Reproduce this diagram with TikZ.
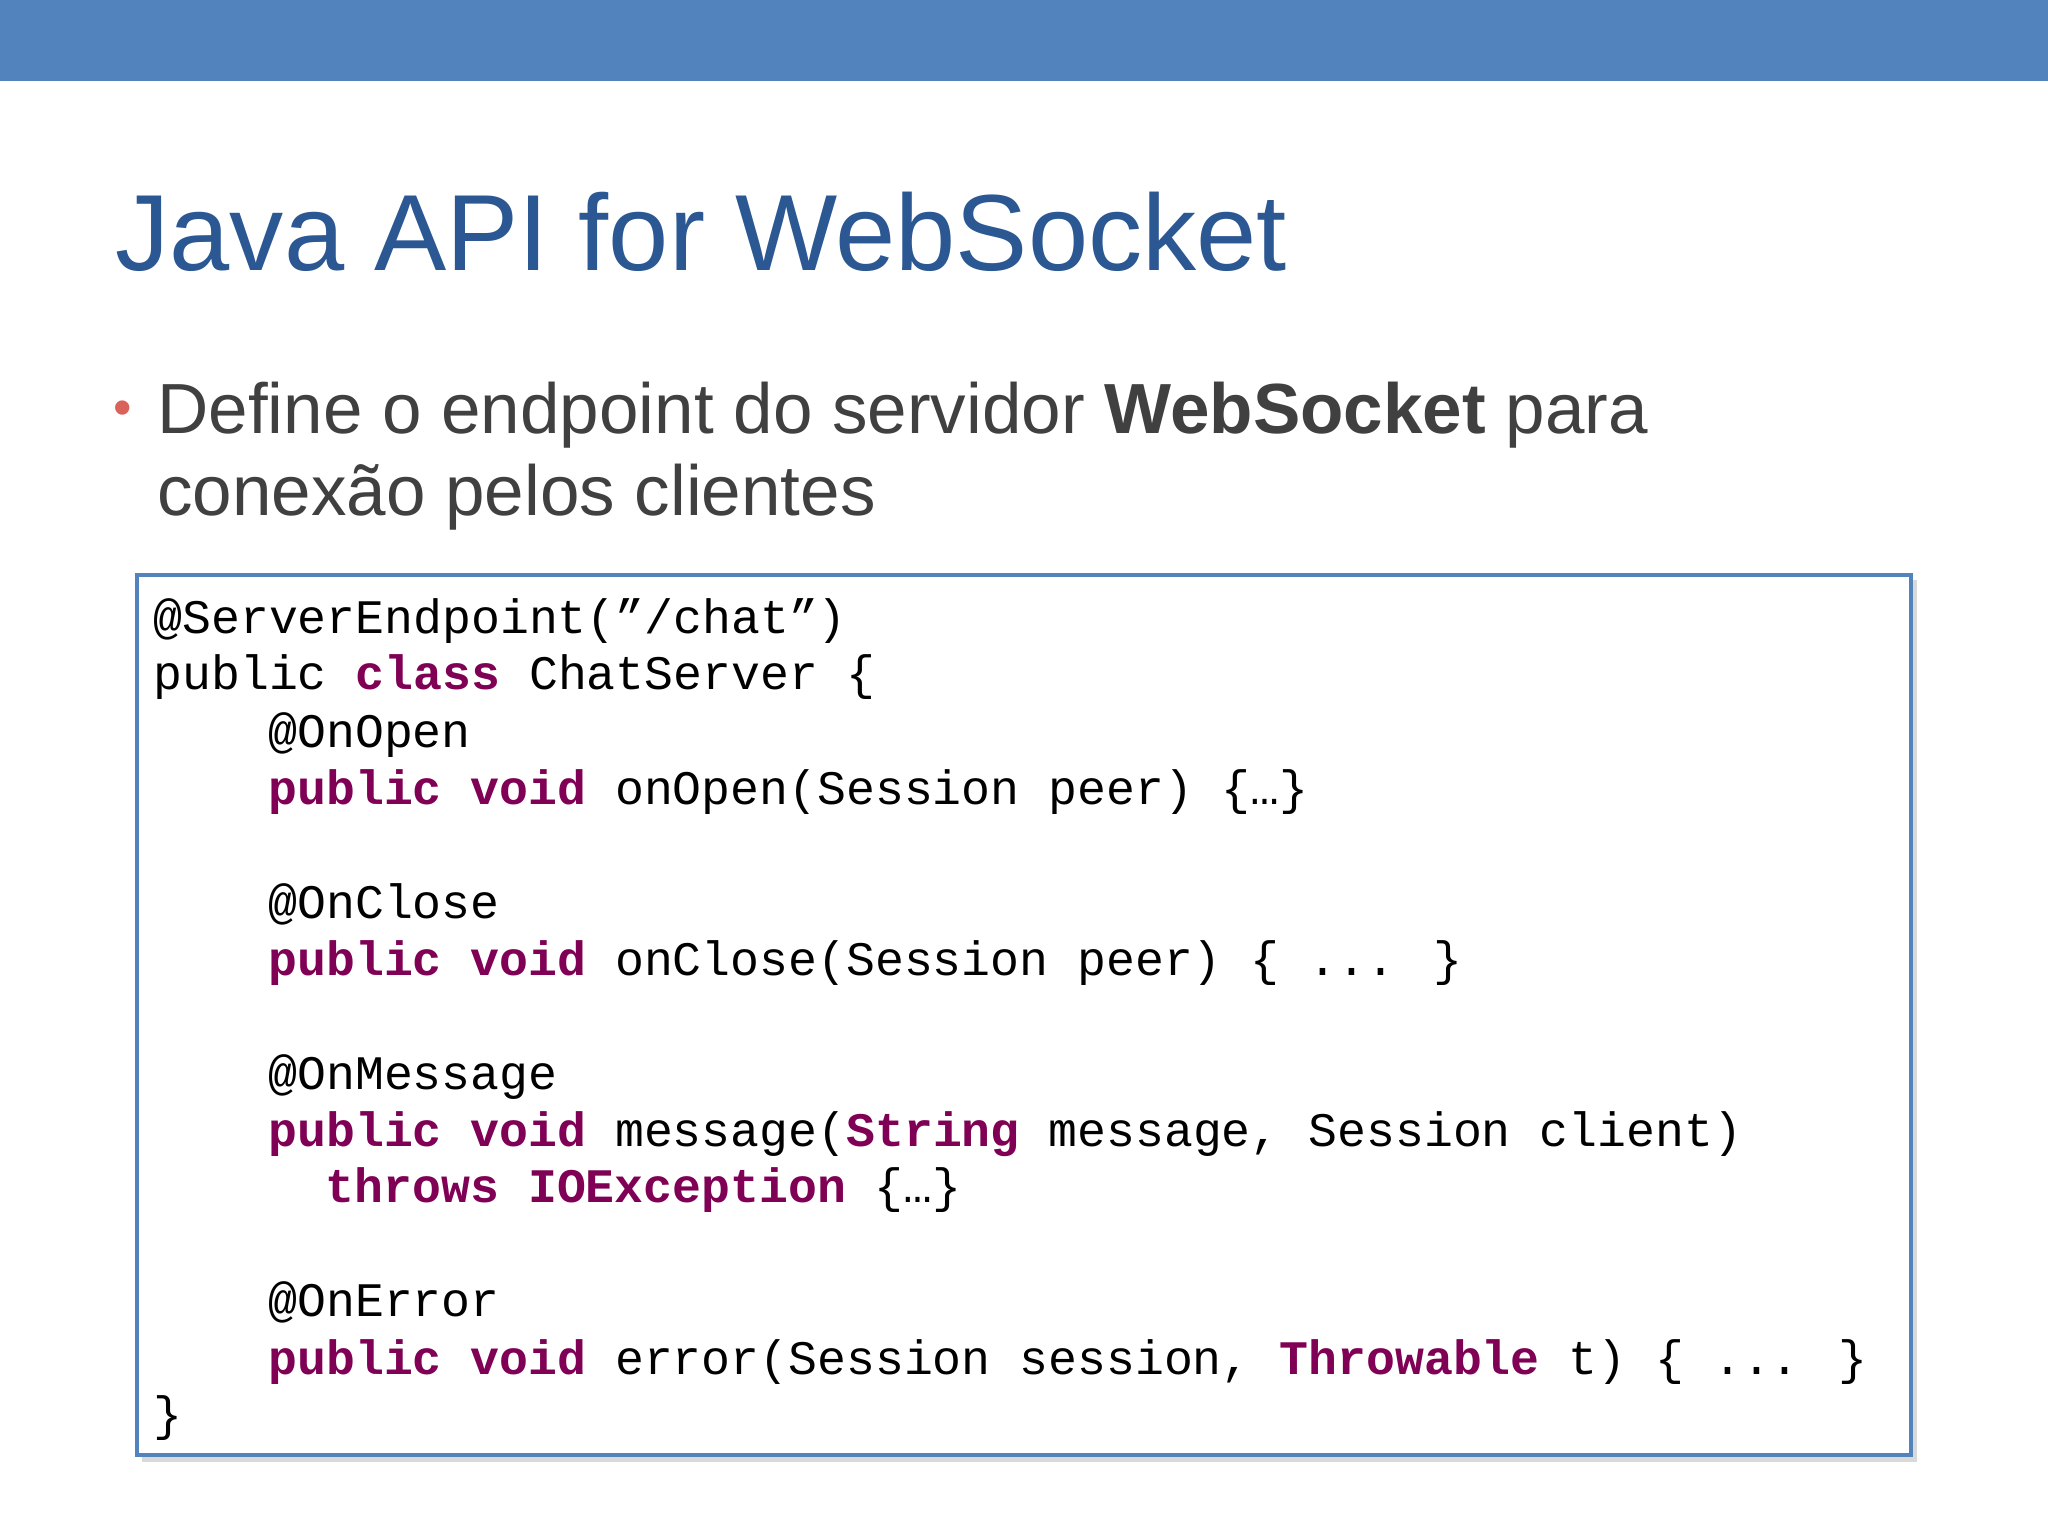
\documentclass[tikz,border=0pt]{standalone}
\usepackage{fontspec}
\setmainfont{Liberation Sans}
\newfontfamily\codefont{Liberation Mono}
\definecolor{barblue}{HTML}{5283BD}
\definecolor{titleblue}{HTML}{2B5793}
\definecolor{txtgray}{HTML}{404040}
\definecolor{kwc}{HTML}{7F0055}
\definecolor{bulletred}{HTML}{D9625A}
\newcommand{\kw}[1]{\textcolor{kwc}{\bfseries #1}}
\begin{document}
\begin{tikzpicture}[x=0.013061cm,y=-0.013061cm,
  code/.style={anchor=base west,inner sep=0,font=\codefont\fontsize{13.7}{16}\selectfont,text=black}]
\useasboundingbox (0,0) rectangle (1568,1176);
\fill[white] (0,0) rectangle (1568,1176);
\fill[barblue] (0,0) rectangle (1568,62);
\node[anchor=base west,inner sep=0,text=titleblue,font=\fontsize{30.8}{36}\selectfont] (title) at (88,207) {Java API for WebSocket};
\node[anchor=base west,inner sep=0,text=bulletred,font=\fontsize{15}{18}\selectfont] (bul) at (86,326) {•};
\node[anchor=base west,inner sep=0,text=txtgray,font=\fontsize{20.2}{24}\selectfont] (b1) at (120,332) {Define o endpoint do servidor \textbf{WebSocket} para};
\node[anchor=base west,inner sep=0,text=txtgray,font=\fontsize{20.2}{24}\selectfont] (b2) at (120,395) {conexão pelos clientes};
\fill[black!15] (109,444) rectangle (1468,1119);
\draw[barblue,line width=1.1pt,fill=white] (105,440) rectangle (1463,1114);
\node[code] (l1) at (117,485) {@ServerEndpoint(”/chat”)};
\node[code] (l2) at (117,528) {public \kw{class} ChatServer \{};
\node[code] (l3) at (205,572) {@OnOpen};
\node[code] (l4) at (205,616) {\kw{public void} onOpen(Session peer) \{…\}};
\node[code] (l5) at (205,703) {@OnClose};
\node[code] (l6) at (205,747) {\kw{public void} onClose(Session peer) \{ ... \}};
\node[code] (l7) at (205,834) {@OnMessage};
\node[code] (l8) at (205,878) {\kw{public void} message(\kw{String} message, Session client)};
\node[code] (l9) at (249,921) {\kw{throws IOException} \{…\}};
\node[code] (l10) at (205,1008) {@OnError};
\node[code] (l11) at (205,1052) {\kw{public void} error(Session session, \kw{Throwable} t) \{ ... \}};
\node[code] (l12) at (117,1095) {\}};
\end{tikzpicture}
\end{document}
